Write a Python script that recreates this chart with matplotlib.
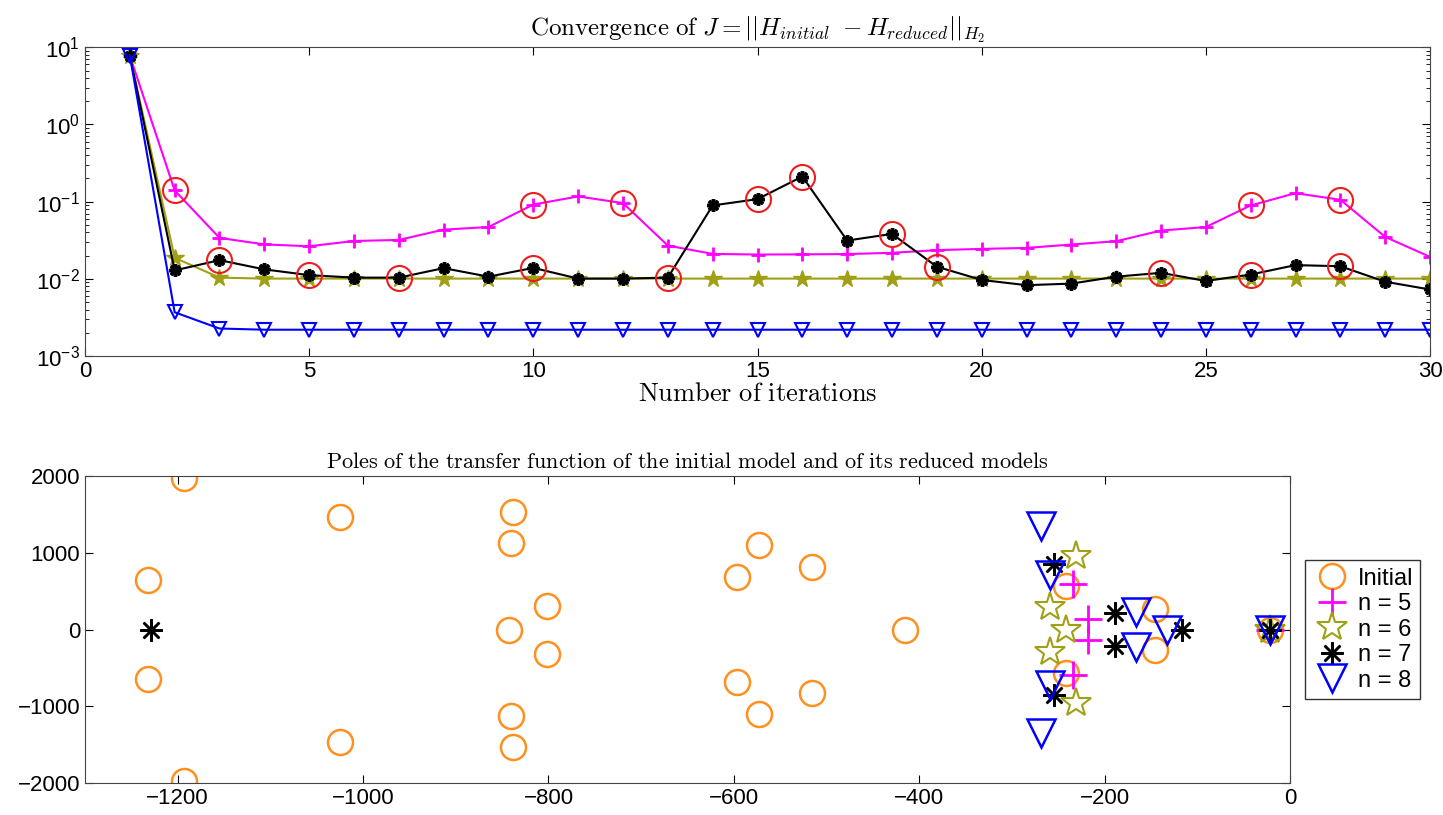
import numpy as np
import matplotlib
matplotlib.use('Agg')
import matplotlib.pyplot as plt

plt.rcParams['font.family'] = ['Liberation Sans', 'DejaVu Sans']
plt.rcParams['mathtext.fontset'] = 'custom'
plt.rcParams['mathtext.rm'] = 'Liberation Sans'
plt.rcParams['mathtext.it'] = 'Liberation Sans:italic'

# ---- data: convergence of J ----
iters = np.arange(1, 31)
J_n5 = [7.8, 0.14, 0.034, 0.028, 0.0265, 0.031, 0.032, 0.0435, 0.047, 0.092,
        0.117, 0.096, 0.027, 0.0211, 0.0207, 0.0208, 0.021, 0.0218, 0.0236, 0.0245,
        0.0252, 0.0279, 0.0308, 0.0423, 0.047, 0.0895, 0.129, 0.106, 0.035, 0.0193]
J_n6 = [7.8, 0.0188, 0.0104, 0.0101, 0.0101, 0.0101, 0.0101, 0.0101, 0.0101, 0.0101,
        0.0101, 0.0101, 0.0101, 0.0101, 0.0101, 0.0101, 0.0101, 0.0101, 0.0101, 0.0101,
        0.0101, 0.0101, 0.0101, 0.0101, 0.0101, 0.0101, 0.0101, 0.0101, 0.0101, 0.0101]
J_n7 = [7.8, 0.0129, 0.0175, 0.0133, 0.0112, 0.0104, 0.0104, 0.0138, 0.0107, 0.0139,
        0.0101, 0.0101, 0.0104, 0.0895, 0.108, 0.212, 0.0314, 0.0383, 0.0144, 0.0097,
        0.0083, 0.0087, 0.0107, 0.012, 0.0094, 0.0114, 0.0151, 0.0146, 0.0092, 0.0073]
J_n8 = [7.8, 0.0037, 0.00228, 0.0022, 0.0022, 0.0022, 0.0022, 0.0022, 0.0022, 0.0022,
        0.0022, 0.0022, 0.0022, 0.0022, 0.0022, 0.0022, 0.0022, 0.0022, 0.0022, 0.0022,
        0.0022, 0.0022, 0.0022, 0.0022, 0.0022, 0.0022, 0.0022, 0.0022, 0.0022, 0.0022]
circled_n5 = [2, 10, 12, 26, 28]
circled_n7 = [3, 5, 7, 10, 13, 15, 16, 18, 19, 24, 26, 28]

# ---- data: poles (real, imag) ----
init_re = [-1193, -1193, -1232, -1232, -1025, -1025, -838, -838, -840, -840, -843,
           -802, -802, -573, -573, -597, -597, -516, -516, -415, -242, -242,
           -146, -146, -22]
init_im = [1970, -1970, 647, -647, 1466, -1466, 1525, -1525, 1125, -1125, 0,
           313, -313, 1095, -1095, 682, -682, 821, -821, 0, 570, -570,
           270, -270, 0]
n5_re = [-234, -234, -218, -218, -22]
n5_im = [590, -590, 140, -140, 0]
n6_re = [-231, -231, -259, -259, -242, -22]
n6_im = [955, -955, 295, -295, 0, 0]
n7_re = [-1229, -255, -255, -189, -189, -117, -22]
n7_im = [0, 858, -858, 218, -218, 0, 0]
n8_re = [-269, -269, -259, -259, -166, -166, -133, -22]
n8_im = [1350, -1350, 715, -715, 229, -229, 0, 0]

orange = '#ff9020'
magenta = '#ff00ff'
olive = '#a0a014'
blue = '#0000ff'
red = '#ee1c1c'
asterisk = (8, 2, 0)

fig = plt.figure(figsize=(14.43, 8.15), dpi=100)

# ---- top: convergence ----
ax1 = fig.add_axes([0.0589, 0.563, 0.9321, 0.379])
ax1.semilogy(iters, J_n5, '-', color=magenta, marker='+', ms=10, mew=2, lw=1.5)
ax1.semilogy(iters, J_n6, '-', color=olive, marker='*', ms=13, mew=1, lw=1.5)
ax1.semilogy(iters, J_n7, '-', color='black', marker=asterisk, ms=9, mew=2.5, lw=1.5)
ax1.semilogy(iters, J_n8, '-', color=blue, marker='v', ms=10, mew=1.5,
             mfc='none', lw=1.5)
ax1.semilogy(circled_n5, [J_n5[i - 1] for i in circled_n5], 'o', color=red,
             ms=18, mfc='none', mew=1.5)
ax1.semilogy(circled_n7, [J_n7[i - 1] for i in circled_n7], 'o', color=red,
             ms=18, mfc='none', mew=1.5)
ax1.set_xlim(0, 30)
ax1.set_ylim(1e-3, 1e1)
ax1.set_xticks([0, 5, 10, 15, 20, 25, 30])
ax1.tick_params(which='both', direction='in', top=True, right=True, labelsize=16)
ax1.tick_params(which='major', length=6)
ax1.tick_params(which='minor', length=3)
ax1.set_title(r'$\mathrm{Convergence\ of\ } J = ||H_{initial}\ - H_{reduced}||_{H_2}$',
              fontsize=18, math_fontfamily='cm', pad=8)
ax1.set_xlabel(r'$\mathrm{Number\ of\ iterations}$', fontsize=19,
               math_fontfamily='cm', labelpad=0)

# ---- bottom: poles ----
ax2 = fig.add_axes([0.0589, 0.039, 0.8351, 0.377])
ax2.plot(init_re, init_im, 'o', color=orange, ms=18, mfc='none', mew=1.8,
         linestyle='none', label='Initial')
ax2.plot(n5_re, n5_im, '+', color=magenta, ms=20, mew=2, linestyle='none',
         label='n = 5')
ax2.plot(n6_re, n6_im, '*', color=olive, ms=22, mfc='none', mew=1.5,
         linestyle='none', label='n = 6')
ax2.plot(n7_re, n7_im, marker=asterisk, color='black', ms=16, mew=1.8,
         linestyle='none', label='n = 7')
ax2.plot(n8_re, n8_im, 'v', color=blue, ms=20, mfc='none', mew=1.8,
         linestyle='none', label='n = 8')
ax2.set_xlim(-1300, 0)
ax2.set_ylim(-2000, 2000)
ax2.set_xticks([-1200, -1000, -800, -600, -400, -200, 0])
ax2.set_yticks([-2000, -1000, 0, 1000, 2000])
ax2.tick_params(direction='in', top=True, right=True, labelsize=16, length=6)
ax2.set_title(r'$\mathrm{Poles\ of\ the\ transfer\ function\ of\ the\ initial\ model\ and\ of\ its\ reduced\ models}$',
              fontsize=16, math_fontfamily='cm', pad=6)
leg = ax2.legend(loc='center left', bbox_to_anchor=(1.012, 0.5), fontsize=17,
                 frameon=True, fancybox=False, edgecolor='black',
                 handlelength=1.7, handletextpad=0.25, borderpad=0.3,
                 labelspacing=0.15, borderaxespad=0)
leg.get_frame().set_linewidth(1.0)

for ax in (ax1, ax2):
    for s in ax.spines.values():
        s.set_color('#444444')

fig.savefig('out.png', dpi=100)
